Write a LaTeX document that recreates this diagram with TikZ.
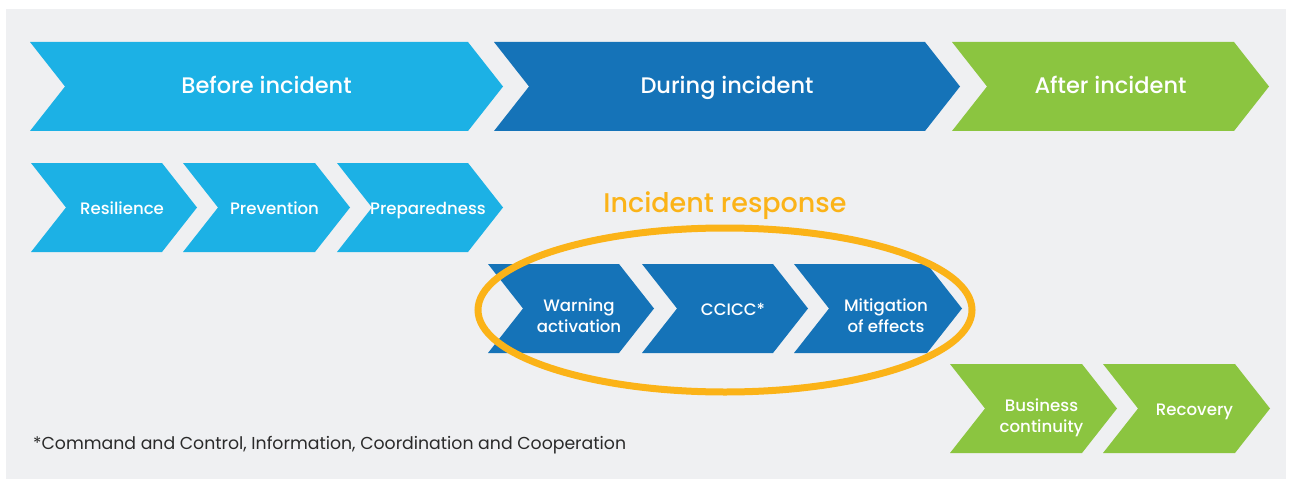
\documentclass[tikz,border=0pt]{standalone}
\usepackage{fontspec}
\setmainfont{Poppins}
\newfontfamily\labelfont{Poppins Medium}

\definecolor{skyblue}{HTML}{1CB1E5}
\definecolor{deepblue}{HTML}{1573B8}
\definecolor{leafgreen}{HTML}{8BC540}
\definecolor{amber}{HTML}{FBB318}
\definecolor{panel}{HTML}{EFF0F2}
\definecolor{inktext}{HTML}{2A2A2A}

\tikzset{
  phaselabel/.style={text=white, inner sep=0pt, anchor=base, yshift=-7.5pt,
                     font=\labelfont\fontsize{22.5}{27}\selectfont},
  steplabel/.style={text=white, inner sep=0pt, align=center, anchor=base,
                    xshift=8pt, yshift=-6.5pt, font=\labelfont\fontsize{16.6}{21}\selectfont},
  twolines/.style={steplabel, yshift=-17.5pt},
}

% chevron: [label style]{name}{left x}{tip x}{middle y}{colour}{text}
\newcommand{\chevron}[7][steplabel]{%
  \fill[#6] (#3,#5-44.5) -- (#4-35,#5-44.5) -- (#4,#5) -- (#4-35,#5+44.5)
            -- (#3,#5+44.5) -- (#3+35,#5) -- cycle;
  \node[#1] (#2) at ({(#3+#4)/2},#5) {#7};
}

\begin{document}
\begin{tikzpicture}[x=1pt,y=-1pt]
  \useasboundingbox (0,0) rectangle (1292,484);
  \fill[white] (0,0) rectangle (1292,484);
  \fill[panel] (6,9) rectangle (1286,479);

  % phases
  \chevron[phaselabel]{before}{30}{503}{86.5}{skyblue}{Before incident}
  \chevron[phaselabel]{during}{494}{960}{86.5}{deepblue}{During incident}
  \chevron[phaselabel]{after}{952}{1269}{86.5}{leafgreen}{After incident}

  % before
  \chevron{resil}{31}{197}{207.5}{skyblue}{Resilience}
  \chevron{prevent}{183}{350}{207.5}{skyblue}{Prevention}
  \chevron{prepare}{337}{503}{207.5}{skyblue}{Preparedness}

  % during
  \chevron[twolines]{warning}{488}{654}{308.5}{deepblue}{Warning\\activation}
  \chevron{ccicc}{642}{808}{308.5}{deepblue}{CCICC*}
  \chevron[twolines]{mitig}{794}{962}{308.5}{deepblue}{Mitigation\\of effects}

  % after
  \chevron[twolines]{business}{950}{1117}{408.5}{leafgreen}{Business\\continuity}
  \chevron{recover}{1103}{1270}{408.5}{leafgreen}{Recovery}

  % response ring
  \draw[amber, line width=7pt] (725,310) ellipse [x radius=247, y radius=82];
  \node[text=amber, inner sep=0pt, anchor=base, font=\labelfont\fontsize{27}{32}\selectfont] (response) at (725,212) {Incident response};

  \node[anchor=base west, text=inktext, inner sep=0pt, font=\fontsize{17.3}{20}\selectfont] (note) at (33,449)
    {*Command and Control, Information, Coordination and Cooperation};
\end{tikzpicture}
\end{document}
